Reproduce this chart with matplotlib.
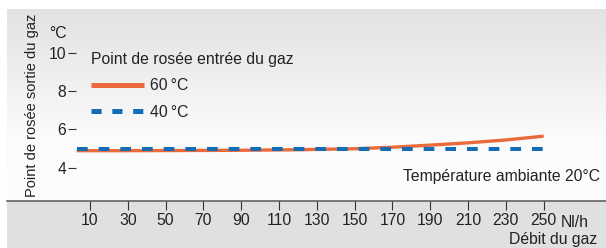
import matplotlib
matplotlib.use("Agg")
import matplotlib.pyplot as plt
import numpy as np
from matplotlib.lines import Line2D
from matplotlib.patches import Rectangle
from matplotlib.colors import LinearSegmentedColormap

plt.rcParams['font.family'] = ['Liberation Sans', 'DejaVu Sans']
plt.rcParams['lines.scale_dashes'] = False

# ---- data ----
flow = [3, 30, 60, 90, 120, 150, 170, 190, 210, 230, 250]
dew_in_60 = [4.88, 4.88, 4.89, 4.90, 4.93, 4.98, 5.06, 5.17, 5.29, 5.44, 5.64]
dew_in_40 = [4.95, 4.95, 4.95, 4.95, 4.95, 4.95, 4.95, 4.95, 4.95, 4.95, 4.95]
x_ticks = [10, 30, 50, 70, 90, 110, 130, 150, 170, 190, 210, 230, 250]
y_ticks = [4, 6, 8, 10]
series_labels = ['60\u2009°C', '40\u2009°C']

W, H = 606, 248
DPI = 100
ORANGE = '#eb6a3b'
BLUE = '#136cb4'
TXT = '#222222'
FS = 11.3

fig = plt.figure(figsize=(W / DPI, H / DPI), dpi=DPI)
fig.patch.set_facecolor('white')

def fx(px):
    return px / W

def fy(py):
    return 1 - py / H

# lower band
fig.patches.append(Rectangle((fx(7), 0), 1 - fx(7), fy(200.5), transform=fig.transFigure,
                             facecolor='#dfe0e2', edgecolor='none', zorder=0))

rect = [fx(7), fy(200.5), 1 - fx(7), (200.5 - 9) / H]
bg = fig.add_axes(rect, zorder=0)
grad = np.linspace(0, 1, 256).reshape(-1, 1)
cmap = LinearSegmentedColormap.from_list('g', ['#e1e2e4', '#eeeeef', '#fbfbfb', '#fdfdfd'])
bg.imshow(grad, aspect='auto', cmap=cmap, extent=[0, 1, 0, 1], origin='upper')
bg.set_axis_off()

ax = fig.add_axes(rect, zorder=1)
ax.patch.set_alpha(0)

ax.plot(flow, dew_in_60, color=ORANGE, lw=2.4, solid_capstyle='butt', zorder=3)
ax.plot(flow, dew_in_40, color=BLUE, lw=2.9, dashes=(7.7, 7.9), dash_capstyle='butt', zorder=4)

ax.set_xlim(10 + (7 - 90) / 1.8904, 10 + (606 - 90) / 1.8904)
ax.set_ylim(4 - 33 / 19.12, 4 + 158.5 / 19.12)

for s in ['top', 'right']:
    ax.spines[s].set_visible(False)
ax.spines['left'].set_position(('data', 10 + (76 - 90) / 1.8904))
ax.spines['left'].set_color('none')
ax.spines['bottom'].set_color('#555555')
ax.spines['bottom'].set_linewidth(1.1)

ax.set_xticks(x_ticks)
ax.set_xticklabels([str(v) for v in x_ticks])
ax.set_yticks(y_ticks)
ax.set_yticklabels([str(v) for v in y_ticks])
ax.tick_params(axis='x', direction='out', length=6.5, width=0.8, color='#333333',
               pad=2.8, labelsize=FS, labelcolor=TXT)
ax.tick_params(axis='y', direction='out', length=5.8, width=0.8, color='#333333',
               pad=1.4, labelsize=FS, labelcolor=TXT)

# legend
handles = [Line2D([], [], color=ORANGE, lw=3.6, solid_capstyle='butt'),
           Line2D([], [], color=BLUE, lw=3.6, dashes=(7.3, 7.7), dash_capstyle='butt')]
leg = ax.legend(handles, series_labels, title='Point de rosée entrée du gaz',
                loc='upper left', bbox_to_anchor=(fx(91), fy(52)), bbox_transform=fig.transFigure,
                frameon=False, fontsize=FS, title_fontsize=FS, handlelength=3.4,
                handletextpad=0.38, labelspacing=0.72, borderpad=0, borderaxespad=0)
leg._legend_box.align = 'left'
for t in leg.get_texts():
    t.set_color(TXT)
leg.get_title().set_color(TXT)

fig.text(fx(32), fy(105), 'Point de rosée sortie du gaz', rotation=90, ha='center', va='center',
         fontsize=10.5, color=TXT)
fig.text(fx(49), fy(33.3), '°C', ha='left', va='center', fontsize=FS, color=TXT)
fig.text(fx(561), fy(222.5), 'Nl/h', ha='left', va='center', fontsize=FS, color=TXT)
fig.text(fx(597), fy(239.5), 'Débit du gaz', ha='right', va='center', fontsize=FS, color=TXT)
fig.text(fx(600), fy(177), 'Température ambiante 20°C', ha='right', va='center', fontsize=FS, color=TXT)

fig.savefig('out.png', dpi=DPI)
